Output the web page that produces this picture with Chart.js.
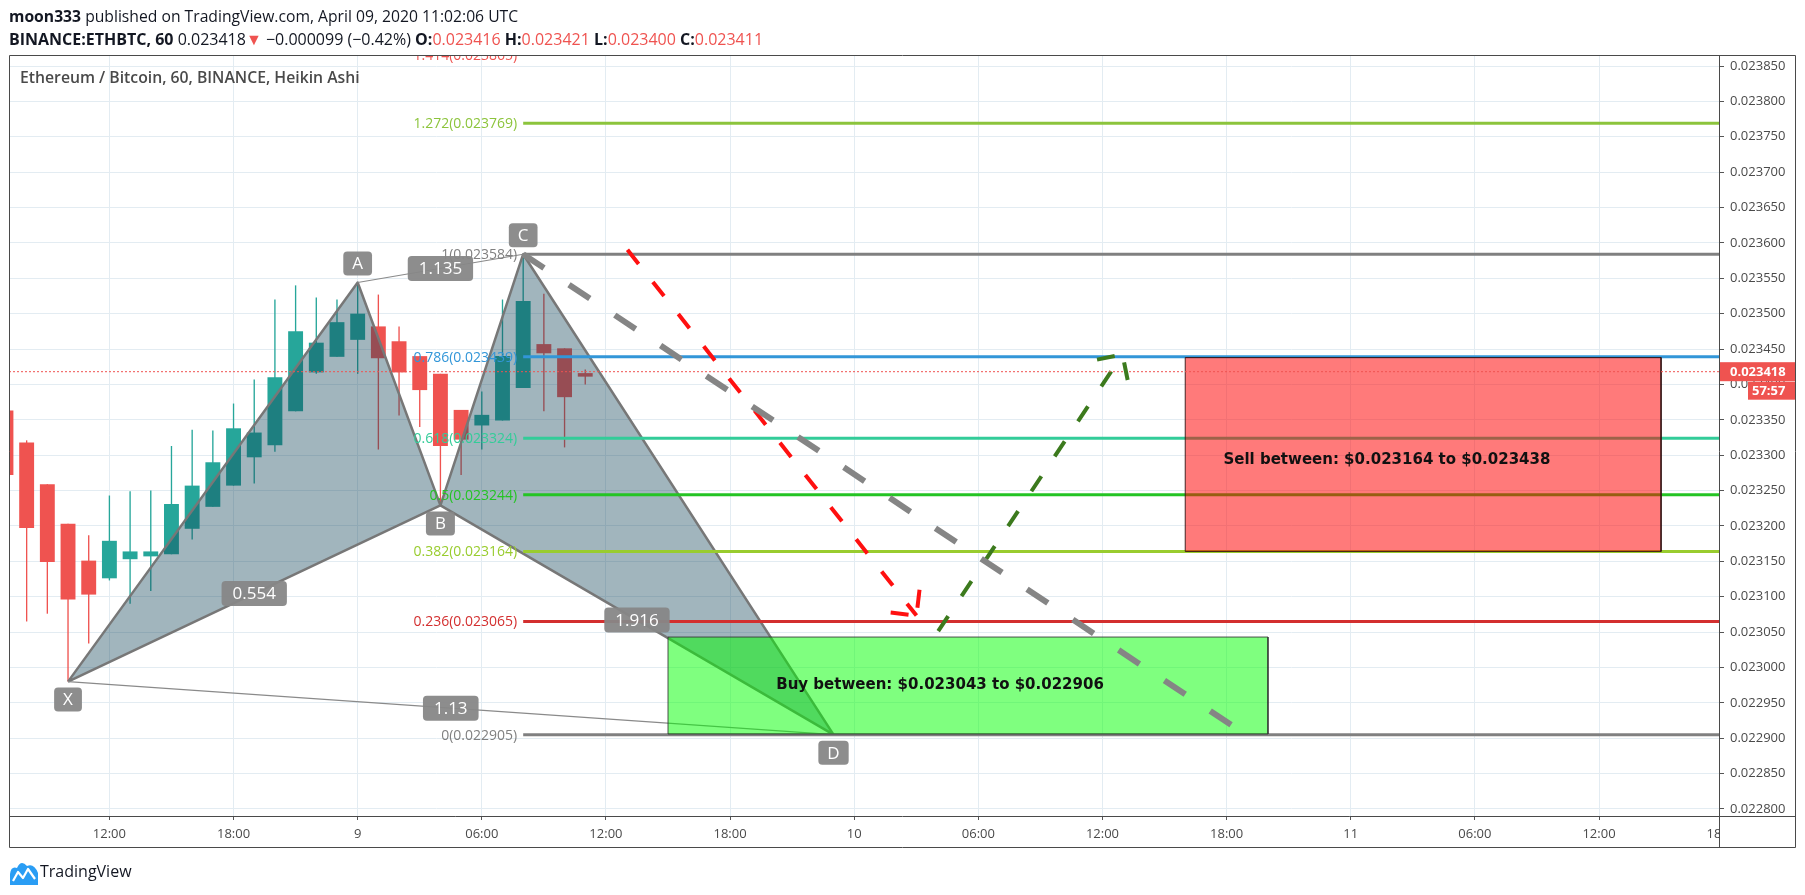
<!DOCTYPE html>
<html><head><meta charset="utf-8">
<script src="https://cdn.jsdelivr.net/npm/chart.js@4.4.1/dist/chart.umd.min.js"></script>
<style>
html,body{margin:0;padding:0;background:#fff;width:1805px;height:895px;overflow:hidden;}
#wrap{position:relative;width:1805px;height:895px;}
canvas{position:absolute;left:0;top:0;}
.t{position:absolute;font-family:'Open Sans',sans-serif;color:#131722;white-space:nowrap;line-height:20px;}
.r{color:#ef5350;}
b{font-weight:700;}
</style></head>
<body><div id="wrap">
<canvas id="c" width="1805" height="895"></canvas>
<div class="t" id="h1" style="left:9px;top:6px;font-size:15.7px;"><b>moon333</b> published on TradingView.com, April 09, 2020 11:02:06 UTC</div>
<div class="t" id="h2" style="left:9px;top:29px;font-size:16px;"><b>BINANCE:ETHBTC, 60</b> 0.023418<span class="r">▼</span> −0.000099 (−0.42%) <b>O:</b><span class="r">0.023416</span> <b>H:</b><span class="r">0.023421</span> <b>L:</b><span class="r">0.023400</span> <b>C:</b><span class="r">0.023411</span></div>
<div class="t" id="ttl" style="left:20px;top:67px;font-size:15.75px;font-weight:600;color:#4a4a4a;">Ethereum / Bitcoin, 60, BINANCE, Heikin Ashi</div>
<svg style="position:absolute;left:9px;top:857px" width="30" height="30" viewBox="0 0 30 30">
<path d="M1 28 L1 17 Q2 9 8 11 Q12 2 18 9 Q25 6 29 16 L29 28 Z" fill="#2a9df4"/>
<path d="M4 24 L9 15 L14 21 L19 12 L26 22" stroke="#fff" stroke-width="2.2" fill="none" stroke-linejoin="round"/>
</svg>
<div class="t" id="ft" style="left:40px;top:861px;font-size:16px;">TradingView</div>
</div>
<script>
// ---- candles (Heikin Ashi, 1h), hour 0 = April 8 00:00 UTC
const candleHours = [7,8,9,10,11,12,13,14,15,16,17,18,19,20,21,22,23,24,25,26,27,28,29,30,31,32,33,34,35];
const candleOpen  = [0.023363,0.023318,0.023259,0.023203,0.023151,0.023126,0.023153,0.023157,0.023160,0.023196,0.023227,0.023257,0.023297,0.023314,0.023362,0.023417,0.023439,0.023463,0.023482,0.023461,0.023440,0.023415,0.023364,0.023342,0.023349,0.023395,0.023457,0.023451,0.023416];
const candleHigh  = [0.023375,0.023321,0.023259,0.023203,0.023187,0.023243,0.023249,0.023250,0.023313,0.023336,0.023335,0.023373,0.023407,0.023520,0.023540,0.023523,0.023520,0.023544,0.023527,0.023482,0.023440,0.023415,0.023364,0.023390,0.023520,0.023584,0.023528,0.023451,0.023421];
const candleLow   = [0.023250,0.023065,0.023076,0.022980,0.023034,0.023123,0.023090,0.023108,0.023160,0.023181,0.023227,0.023257,0.023260,0.023305,0.023362,0.023415,0.023439,0.023415,0.023308,0.023356,0.023340,0.023229,0.023272,0.023308,0.023349,0.023395,0.023362,0.023311,0.023400];
const candleClose = [0.023272,0.023197,0.023149,0.023096,0.023103,0.023179,0.023164,0.023164,0.023231,0.023257,0.023290,0.023338,0.023332,0.023410,0.023475,0.023459,0.023488,0.023500,0.023437,0.023417,0.023392,0.023313,0.023322,0.023357,0.023440,0.023518,0.023444,0.023382,0.023411];
const lastPrice = 0.023418;

// ---- Fibonacci retracement
const fibRatios = ['1.414','1.272','1','0.786','0.618','0.5','0.382','0.236','0'];
const fibPrices = [0.023865,0.023769,0.023584,0.023439,0.023324,0.023244,0.023164,0.023065,0.022905];
const fibStartHour = 32;

// ---- XABCD pattern
const pivotNames  = ['X','A','B','C','D'];
const pivotHours  = [10,24,28,32,47];
const pivotPrices = [0.022980,0.023544,0.023229,0.023584,0.022905];
const ratioLabels = ['1.135','0.554','1.916','1.13'];
const ratioFrom   = ['A','X','B','X'];
const ratioTo     = ['C','B','D','D'];

// ---- zones
const buyBoxHours = [39,68];
const buyBoxPrices = [0.022906,0.023043];
const buyText = 'Buy between: $0.023043 to $0.022906';
const buyTextHour = 52.15;
const sellBoxHours = [64,87];
const sellBoxPrices = [0.023164,0.023438];
const sellText = 'Sell between: $0.023164 to $0.023438';
const sellTextHour = 73.75;

// ---- hand drawn dashed lines / arrows
const grayPathHours  = [32,66.25];
const grayPathPrices = [0.023584,0.0229183];
const redArrowHours   = [37.04,51.01];
const redArrowPrices  = [0.0235903,0.0230733];
const greenArrowHours = [52.06,60.97];
const greenArrowPrices= [0.0230515,0.0234423];

// ---- axes
const timeTickHours  = [12,18,24,30,36,42,48,54,60,66,72,78,84,90];
const timeTickLabels = ['12:00','18:00','9','06:00','12:00','18:00','10','06:00','12:00','18:00','11','06:00','12:00','18:00'];
const priceTicks = [0.0228,0.02285,0.0229,0.02295,0.023,0.02305,0.0231,0.02315,0.0232,0.02325,0.0233,0.02335,0.0234,0.02345,0.0235,0.02355,0.0236,0.02365,0.0237,0.02375,0.0238,0.02385];
const X_MIN = 7.147, X_MAX = 89.8, Y_MIN = 0.0227901, Y_MAX = 0.02386555;

// ---- styles
const UP = '#26a69a', DOWN = '#ef5350';
const fibColors = ['#ef5350','#8cc43c','#808080','#3296d8','#33cc99','#24c424','#99cc2e','#d32f2f','#808080'];
const FONT = "'Open Sans', sans-serif";
const RED_ARROW = '#ff1010', GREEN_ARROW = '#3c7a1d';

const candleColors = candleOpen.map((o,i)=> candleClose[i] >= o ? UP : DOWN);
const pt = (h,p)=>({x:h,y:p});
const pv = n => { const i = pivotNames.indexOf(n); return pt(pivotHours[i], pivotPrices[i]); };
const path = (hs,ps)=> hs.map((h,i)=>pt(h,ps[i]));
const rect = (hs,ps)=> [pt(hs[0],ps[1]),pt(hs[1],ps[1]),pt(hs[1],ps[0]),pt(hs[0],ps[0]),pt(hs[0],ps[1])];

const lineBase = {type:'line', pointRadius:0, pointHoverRadius:0, tension:0, fill:false};

const datasets = [];
datasets.push({type:'bar', data:candleHours.map((h,i)=>({x:h,y:[candleLow[i],candleHigh[i]]})), backgroundColor:candleColors, grouped:false, categoryPercentage:1, barPercentage:0.065, borderWidth:0, order:80});
datasets.push({type:'bar', data:candleHours.map((h,i)=>({x:h,y:[candleOpen[i],candleClose[i]]})), backgroundColor:candleColors, grouped:false, categoryPercentage:1, barPercentage:0.72, minBarLength:1, borderWidth:0, order:79});
// pattern triangles
datasets.push({...lineBase, data:[pv('X'),pv('A'),pv('B'),pv('X')], fill:'shape', backgroundColor:'rgba(20,70,90,0.4)', borderColor:'#777', borderWidth:2.5, borderJoinStyle:'round', order:70});
datasets.push({...lineBase, data:[pv('B'),pv('C'),pv('D'),pv('B')], fill:'shape', backgroundColor:'rgba(20,70,90,0.4)', borderColor:'#777', borderWidth:2.5, borderJoinStyle:'round', order:70});
datasets.push({...lineBase, data:[pv('A'),pv('C')], borderColor:'#8a8a8a', borderWidth:1.2, order:69});
datasets.push({...lineBase, data:[pv('X'),pv('D')], borderColor:'#8a8a8a', borderWidth:1.2, order:69});
// fib levels
fibPrices.forEach((p,i)=>datasets.push({...lineBase, data:[pt(fibStartHour,p),pt(X_MAX,p)], borderColor:fibColors[i], borderWidth:3, borderCapStyle:'butt', clip:{left:0,top:-3,right:0,bottom:0}, order:65}));
// zones
datasets.push({...lineBase, data:rect(buyBoxHours,buyBoxPrices), fill:'shape', backgroundColor:'rgba(0,255,0,0.5)', borderColor:'rgba(50,50,50,0.85)', borderWidth:1, order:60});
datasets.push({...lineBase, data:rect(sellBoxHours,sellBoxPrices), fill:'shape', backgroundColor:'rgba(255,0,0,0.52)', borderColor:'rgba(50,20,20,0.9)', borderWidth:1, order:60});
// dashed lines / arrows
datasets.push({...lineBase, data:path(grayPathHours,grayPathPrices), borderColor:'#858585', borderWidth:6, borderDash:[25,30], borderCapStyle:'butt', order:50});
datasets.push({...lineBase, data:path(redArrowHours,redArrowPrices), borderColor:RED_ARROW, borderWidth:4, borderDash:[18,23], borderCapStyle:'butt', order:50});
datasets.push({...lineBase, data:path(greenArrowHours,greenArrowPrices), borderColor:GREEN_ARROW, borderWidth:4, borderDash:[18,24], borderCapStyle:'butt', order:50});
// last price line
datasets.push({...lineBase, data:[pt(X_MIN,lastPrice),pt(X_MAX,lastPrice)], borderColor:'#ef5350', borderWidth:1, borderDash:[2,2], order:45});

const arrows = [[redArrowHours,redArrowPrices,RED_ARROW],[greenArrowHours,greenArrowPrices,GREEN_ARROW]];

function rrect(ctx,x,y,w,h,r){ctx.beginPath();ctx.moveTo(x+r,y);ctx.lineTo(x+w-r,y);ctx.quadraticCurveTo(x+w,y,x+w,y+r);ctx.lineTo(x+w,y+h-r);ctx.quadraticCurveTo(x+w,y+h,x+w-r,y+h);ctx.lineTo(x+r,y+h);ctx.quadraticCurveTo(x,y+h,x,y+h-r);ctx.lineTo(x,y+r);ctx.quadraticCurveTo(x,y,x+r,y);ctx.closePath();}
function tag(ctx,text,cx,cy,font,padX,h){ctx.font=font;const w=ctx.measureText(text).width+padX*2;ctx.fillStyle='rgba(135,135,135,0.95)';rrect(ctx,cx-w/2,cy-h/2,w,h,4);ctx.fill();ctx.fillStyle='#fff';ctx.textAlign='center';ctx.textBaseline='middle';ctx.fillText(text,cx,cy+1);}

const annot = {
  id:'annot',
  beforeDraw(chart){const c=chart.ctx;c.save();c.fillStyle='#fff';c.fillRect(0,0,chart.width,chart.height);c.restore();},
  afterDatasetsDraw(chart){
    const {ctx, chartArea:ca, scales:{x,y}} = chart;
    ctx.save();
    ctx.beginPath();ctx.rect(ca.left,ca.top,ca.right-ca.left,ca.bottom-ca.top);ctx.clip();
    // arrow heads
    arrows.forEach(([hs,ps,col])=>{
      const n=hs.length, tx=x.getPixelForValue(hs[n-1]), ty=y.getPixelForValue(ps[n-1]);
      const sx=x.getPixelForValue(hs[n-2]), sy=y.getPixelForValue(ps[n-2]);
      const back=Math.atan2(sy-ty,sx-tx);
      ctx.strokeStyle=col; ctx.lineWidth=4; ctx.lineCap='butt';
      [-Math.PI/4, Math.PI/4].forEach(d=>{const a=back+d;ctx.beginPath();ctx.moveTo(tx+Math.cos(a)*8,ty+Math.sin(a)*8);ctx.lineTo(tx+Math.cos(a)*26,ty+Math.sin(a)*26);ctx.stroke();});
    });
    // fib labels
    ctx.font = "14px "+FONT; ctx.textAlign='right'; ctx.textBaseline='middle';
    fibRatios.forEach((r,i)=>{ctx.fillStyle=fibColors[i];ctx.fillText(r+'('+fibPrices[i].toFixed(6)+')', x.getPixelForValue(fibStartHour)-6, y.getPixelForValue(fibPrices[i])+1);});
    // zone texts
    ctx.font = "bold 15px 'DejaVu Sans', Verdana, sans-serif"; ctx.fillStyle='#111'; ctx.textAlign='center';
    ctx.fillText(buyText, x.getPixelForValue(buyTextHour), y.getPixelForValue((buyBoxPrices[0]+buyBoxPrices[1])/2));
    ctx.fillText(sellText, x.getPixelForValue(sellTextHour), y.getPixelForValue((sellBoxPrices[0]+sellBoxPrices[1])/2)+6);
    // ratio tags
    ratioLabels.forEach((t,i)=>{const a=pv(ratioFrom[i]),b=pv(ratioTo[i]);const cx=(x.getPixelForValue(a.x)+x.getPixelForValue(b.x))/2, cy=(y.getPixelForValue(a.y)+y.getPixelForValue(b.y))/2; tag(ctx,t,cx,cy,"17px "+FONT,11,25);});
    // pivot tags
    pivotNames.forEach((n,i)=>{const prev=pivotPrices[i-1]??pivotPrices[i+1], next=pivotPrices[i+1]??pivotPrices[i-1];const high=pivotPrices[i]>(prev+next)/2;const cx=x.getPixelForValue(pivotHours[i]), cy=y.getPixelForValue(pivotPrices[i])+(high?-19:18); tag(ctx,n,cx,cy,"17px "+FONT,9,24);});
    ctx.restore();
  },
  afterDraw(chart){
    const {ctx, chartArea:ca, scales:{y}} = chart;
    ctx.save();
    const R = 1796, B = 848;
    ctx.fillStyle='#fff'; ctx.fillRect(ca.right+1, ca.bottom+1, R-ca.right-1, B-ca.bottom-1);
    const py = y.getPixelForValue(lastPrice);
    ctx.fillStyle='#ef5350'; ctx.fillRect(ca.right, py-9.5, R-ca.right, 19);
    ctx.fillRect(1748, py+10, R-1748, 18);
    ctx.fillStyle='#fff'; ctx.font="bold 13px "+FONT; ctx.textBaseline='middle'; ctx.textAlign='left';
    ctx.fillText(lastPrice.toFixed(6), ca.right+11, py+0.5);
    ctx.fillText('57:57', 1752, py+19.5);
    ctx.strokeStyle='#4a4a4a'; ctx.lineWidth=1;
    ctx.beginPath();
    ctx.rect(ca.left+0.5, ca.top+0.5, R-ca.left-1, B-ca.top-1);
    ctx.moveTo(ca.right+0.5, ca.top); ctx.lineTo(ca.right+0.5, B);
    ctx.moveTo(ca.left, ca.bottom+0.5); ctx.lineTo(R, ca.bottom+0.5);
    ctx.stroke();
    ctx.restore();
  }
};

Chart.defaults.font.family = FONT;
new Chart(document.getElementById('c'), {
  type:'bar',
  data:{datasets},
  options:{
    responsive:false, animation:false, devicePixelRatio:1,
    layout:{padding:{left:9,top:55,right:9,bottom:47}},
    plugins:{legend:{display:false}, tooltip:{enabled:false}},
    scales:{
      x:{type:'linear', min:X_MIN, max:X_MAX, bounds:'data', offset:false,
        afterFit(s){s.height=32;},
        afterBuildTicks(s){s.ticks = timeTickHours.map(v=>({value:v}));},
        grid:{offset:false, color:c=> (c.tick && c.tick.value>X_MAX) ? 'rgba(0,0,0,0)' : '#e3ecf2', tickColor:c=> (c.tick && c.tick.value>X_MAX) ? 'rgba(0,0,0,0)' : '#555', tickLength:4, drawTicks:true},
        border:{display:false},
        ticks:{autoSkip:false, maxRotation:0, padding:6, color:'#4a4a4a', font:{size:13}, callback:(v)=>timeTickLabels[timeTickHours.indexOf(v)] ?? ''}
      },
      y:{type:'linear', position:'right', min:Y_MIN, max:Y_MAX, bounds:'data',
        afterFit(s){s.width=77;},
        afterBuildTicks(s){s.ticks = priceTicks.map(v=>({value:v}));},
        grid:{color:'#e3ecf2', tickColor:'#555', tickLength:5},
        border:{display:false},
        ticks:{autoSkip:false, padding:6, color:'#4a4a4a', font:{size:13}, callback:v=>Number(v).toFixed(6)}
      }
    }
  },
  plugins:[annot]
});
</script>
</body></html>
